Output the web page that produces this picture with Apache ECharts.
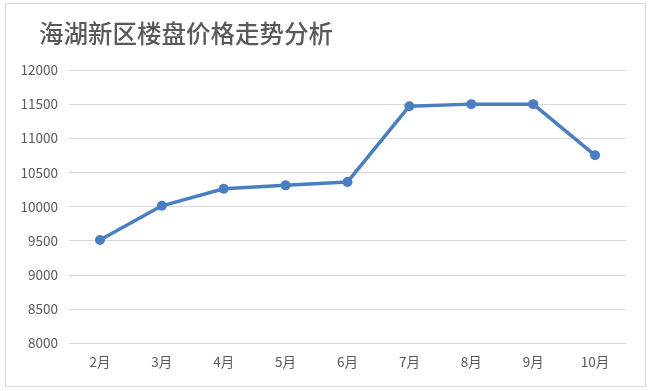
<!DOCTYPE html>
<html>
<head>
<meta charset="utf-8">
<script src="https://cdn.jsdelivr.net/npm/echarts@6/dist/echarts.min.js"></script>
<style>html,body{margin:0;padding:0;background:#fff;}#c{width:650px;height:391px;}</style>
</head>
<body>
<div id="c"></div>
<script>
var titleText = '海湖新区楼盘价格走势分析';
var categories = ['2月','3月','4月','5月','6月','7月','8月','9月','10月'];
var prices = [9510, 10010, 10260, 10310, 10360, 11470, 11500, 11500, 10750];
var yMin = 8000, yMax = 12000, yStep = 500;

var chart = echarts.init(document.getElementById('c'), null, {renderer: 'canvas'});
chart.setOption({
  backgroundColor: '#fff',
  animation: false,
  graphic: [{
    type: 'rect',
    shape: {x: 5.5, y: 3.5, width: 640, height: 383},
    style: {fill: 'none', stroke: '#D9D9D9', lineWidth: 1},
    silent: true
  }],
  title: {
    text: titleText,
    left: 34, top: 16,
    textStyle: {fontFamily: 'Noto Sans CJK SC', fontSize: 24.5, fontWeight: 500, color: '#595959'}
  },
  grid: {left: 69, right: 24, top: 70, bottom: 48},
  xAxis: {
    type: 'category',
    data: categories,
    boundaryGap: true,
    axisLine: {show: false},
    axisTick: {show: false},
    axisLabel: {fontFamily: 'Noto Sans CJK SC', fontSize: 13.5, color: '#595959', margin: 12}
  },
  yAxis: {
    type: 'value',
    min: yMin, max: yMax, interval: yStep,
    axisLine: {show: false},
    axisTick: {show: false},
    axisLabel: {fontFamily: 'Noto Sans CJK SC', fontSize: 13.5, color: '#595959', margin: 11,
      formatter: function (v) { return String(v); }},
    splitLine: {lineStyle: {color: '#D9D9D9', width: 1}}
  },
  series: [{
    type: 'line',
    data: prices,
    symbol: 'circle',
    symbolSize: 10,
    lineStyle: {color: '#4A7EC1', width: 3.5},
    itemStyle: {color: '#4A7EC1'}
  }]
});
</script>
</body>
</html>
